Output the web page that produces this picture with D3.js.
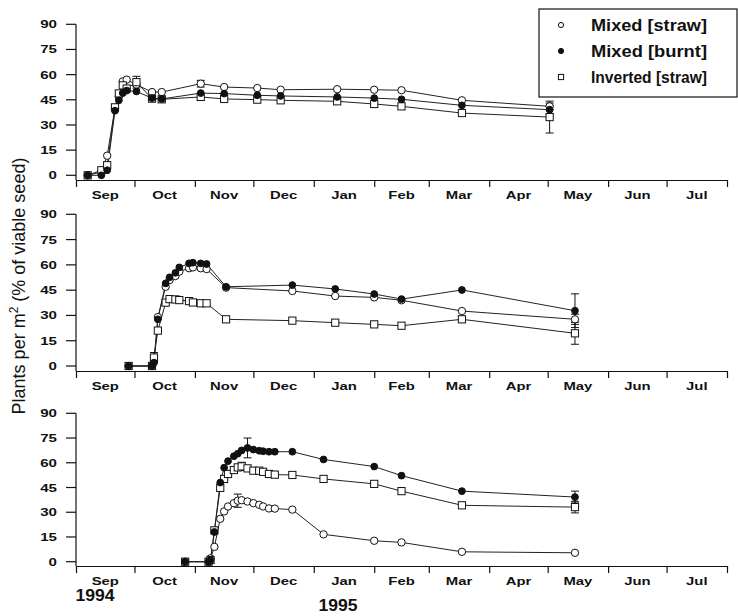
<!DOCTYPE html>
<html><head><meta charset="utf-8">
<script src="https://cdn.jsdelivr.net/npm/d3@7/dist/d3.min.js"></script>
<style>body{margin:0;background:#fff}svg{display:block}</style>
</head><body>
<svg id="c" width="738" height="616"></svg>
<script>
// ---- data ----
const months = ["Sep","Oct","Nov","Dec","Jan","Feb","Mar","Apr","May","Jun","Jul"];
const yTicks = [0,15,30,45,60,75,90];
const seriesNames = ["Mixed [straw]","Mixed [burnt]","Inverted [straw]"];

const topDates = ["1994-09-07","1994-09-14","1994-09-17","1994-09-21","1994-09-23","1994-09-25","1994-09-27","1994-10-02","1994-10-10","1994-10-15","1994-11-04","1994-11-16","1994-12-03","1994-12-15","1995-01-13","1995-02-01","1995-02-15","1995-03-18","1995-05-02"];
const topStraw  = [0,2,11.7,40,47,56,57,54,49.6,49.6,54.6,52.6,52,51,51.3,51,50.7,44.7,41.1];
const topBurnt  = [0,0,3,38.5,44.7,49,50.5,50,46,45.5,49,48.7,47.7,47.3,46.7,46,45.3,41.7,39.1];
const topInv    = [0,3,6,40.5,48.8,53.6,51.7,55.5,45.7,45.3,46.7,45.5,45.1,44.7,44.1,42.5,41.1,37.1,34.7];
const topErr = [["inv","1994-10-02",3.5],["straw","1994-11-04",2],["inv","1995-05-02",9.5],["burnt","1995-05-02",2.5],["straw","1995-05-02",2]];

const midDates = ["1994-09-28","1994-10-10","1994-10-11","1994-10-13","1994-10-17","1994-10-19","1994-10-22","1994-10-24","1994-10-29","1994-10-31","1994-11-04","1994-11-07","1994-11-17","1994-12-21","1995-01-12","1995-02-01","1995-02-15","1995-03-18","1995-05-15"];
const midStraw  = [0,0,3,29,47,51,53.4,56,58,58.5,58,57.5,46.5,44.5,41.5,40.7,39,32.6,27.7];
const midBurnt  = [0,0,2,27.7,49,52.6,55.3,58.5,60.9,61.3,60.9,60.5,47,48,45.7,42.7,39.7,45.1,32.8];
const midInv    = [0,0,5,21,37.6,39.7,39.5,39.1,38.5,37.7,37.2,37.2,27.7,26.9,25.7,24.7,23.9,27.7,19.4];
const midErr = [["inv","1994-10-11",3],["burnt","1995-05-15",10],["straw","1995-05-15",3],["inv","1995-05-15",6.5]];

const botDates = ["1994-10-27","1994-11-08","1994-11-09","1994-11-11","1994-11-14","1994-11-16","1994-11-18","1994-11-21","1994-11-23","1994-11-25","1994-11-28","1994-12-01","1994-12-04","1994-12-06","1994-12-09","1994-12-12","1994-12-21","1995-01-06","1995-02-01","1995-02-15","1995-03-18","1995-05-15"];
const botStraw  = [0,0,2,9,26,30.5,33.5,35.5,37,37.3,36.5,35.5,34.5,33.5,32.3,32.2,31.6,16.6,12.7,11.7,6,5.4];
const botBurnt  = [0,0,1,18,48,57,61,64,65.5,67.5,69,68,67.3,67,66.7,66.7,66.7,62,57.7,52.2,42.8,39.2];
const botInv    = [0,0,1,19,44.8,50.2,53.2,55.6,57.2,57.8,56.6,55.2,55.2,54.5,53.2,52.8,52.6,50.2,47.2,42.8,34.2,33.1];
const botErr = [["burnt","1994-11-28",6],["inv","1994-11-25",2.5],["straw","1994-11-23",4],["burnt","1995-05-15",3.6],["inv","1995-05-15",3.5]];

// ---- drawing ----
const parse = d3.timeParse("%Y-%m-%d");
const svg = d3.select("#c");
const x = d3.scaleTime().domain([new Date(1994,8,1), new Date(1995,7,1)]).range([76,727]);

const panels = [
  {dates:topDates, straw:topStraw, burnt:topBurnt, inv:topInv, err:topErr, y0:175.3, y90:24.3, axisY:180},
  {dates:midDates, straw:midStraw, burnt:midBurnt, inv:midInv, err:midErr, y0:366, y90:214.3, axisY:371},
  {dates:botDates, straw:botStraw, burnt:botBurnt, inv:botInv, err:botErr, y0:561.7, y90:413.3, axisY:566}
];

const ink = "#111";
const FONT = "Liberation Sans, Arial, sans-serif";
function drawMarker(g, kind, cx, cy, s) {
  if (kind === "inv") {
    g.append("rect").attr("x", cx - s).attr("y", cy - s).attr("width", 2*s).attr("height", 2*s)
      .attr("fill", "#fff").attr("stroke", ink).attr("stroke-width", 1);
  } else {
    g.append("circle").attr("cx", cx).attr("cy", cy).attr("r", s)
      .attr("fill", kind === "burnt" ? ink : "#fff").attr("stroke", ink).attr("stroke-width", 1);
  }
}

panels.forEach(p => {
  const y = d3.scaleLinear().domain([0,90]).range([p.y0, p.y90]);
  const g = svg.append("g");
  // y axis
  g.append("line").attr("x1",76).attr("x2",76).attr("y1",p.y90).attr("y2",p.axisY).attr("stroke",ink).attr("stroke-width",1.2);
  yTicks.forEach(t => {
    g.append("line").attr("x1",66).attr("x2",76).attr("y1",y(t)).attr("y2",y(t)).attr("stroke",ink).attr("stroke-width",1.2);
    g.append("text").attr("transform",`translate(57,${y(t)+4}) scale(1.37,1)`)
      .attr("text-anchor","end").attr("font-family",FONT)
      .attr("font-weight","bold").attr("font-size",11).attr("fill",ink).text(t);
  });
  // x axis
  const xa = d3.axisBottom(x).tickValues(d3.timeMonth.range(new Date(1994,8,1), new Date(1995,7,2)))
    .tickFormat("").tickSize(7).tickSizeOuter(0);
  const ax = g.append("g").attr("transform",`translate(0,${p.axisY})`).call(xa);
  ax.select(".domain").attr("stroke",ink).attr("stroke-width",1.2);
  ax.selectAll(".tick line").attr("stroke",ink).attr("stroke-width",1.2);
  months.forEach((m,i) => {
    const a = new Date(1994, 8+i, 1), b = new Date(1994, 9+i, 1);
    const cx = (x(a)+x(b))/2;
    g.append("text").attr("transform",`translate(${cx},${p.axisY+19}) scale(1.35,1)`)
      .attr("text-anchor","middle").attr("font-family",FONT)
      .attr("font-weight","bold").attr("font-size",11).attr("fill",ink).text(m);
  });
  // data
  const dts = p.dates.map(parse);
  const line = d3.line().defined(d => d[1] != null).x(d => x(d[0])).y(d => y(d[1]));
  ["straw","burnt","inv"].forEach(k => {
    g.append("path").datum(dts.map((d,i) => [d, p[k][i]])).attr("d", line)
      .attr("fill","none").attr("stroke","#222").attr("stroke-width",1);
  });
  // error bars
  p.err.forEach(([k, ds, e]) => {
    const d = parse(ds), i = p.dates.indexOf(ds), v = p[k][i];
    const cx = x(d);
    g.append("line").attr("x1",cx).attr("x2",cx).attr("y1",y(v-e)).attr("y2",y(v+e)).attr("stroke",ink);
    [v-e, v+e].forEach(vv => g.append("line").attr("x1",cx-4).attr("x2",cx+4).attr("y1",y(vv)).attr("y2",y(vv)).attr("stroke",ink));
  });
  ["straw","inv","burnt"].forEach(k => {
    dts.forEach((d,i) => {
      const v = p[k][i];
      if (v == null) return;
      drawMarker(g, k, x(d), y(v), k === "inv" ? 3.6 : (k === "burnt" ? 3.4 : 3.7));
    });
  });
});

// years
svg.append("text").attr("transform","translate(95,601) scale(1.1,1)").attr("text-anchor","middle")
  .attr("font-family",FONT).attr("font-weight","bold").attr("font-size",16).attr("fill",ink).text("1994");
svg.append("text").attr("transform","translate(338,611) scale(1.1,1)").attr("text-anchor","middle")
  .attr("font-family",FONT).attr("font-weight","bold").attr("font-size",16).attr("fill",ink).text("1995");

// y title
const yt = svg.append("text").attr("transform","translate(25,286) rotate(-90)").attr("text-anchor","middle")
  .attr("font-family",FONT).attr("font-size",18).attr("fill",ink);
yt.append("tspan").text("Plants per m");
yt.append("tspan").attr("dy",-7).attr("font-size",12).text("2");
yt.append("tspan").attr("dy",7).text(" (% of viable seed)");

// legend
const lg = svg.append("g");
lg.append("rect").attr("x",539).attr("y",9).attr("width",198).attr("height",88).attr("fill","#fff").attr("stroke",ink).attr("stroke-width",1.2);
const keys = ["straw","burnt","inv"];
seriesNames.forEach((n,i) => {
  const cy = 25 + i*26;
  drawMarker(lg, keys[i], 561, cy, 2.6);
  lg.append("text").attr("x",591).attr("y",cy+6).attr("font-family",FONT)
    .attr("font-weight","bold").attr("font-size",17).attr("fill",ink)
    .attr("textLength",116).attr("lengthAdjust","spacingAndGlyphs").text(n);
});
</script>
</body></html>
